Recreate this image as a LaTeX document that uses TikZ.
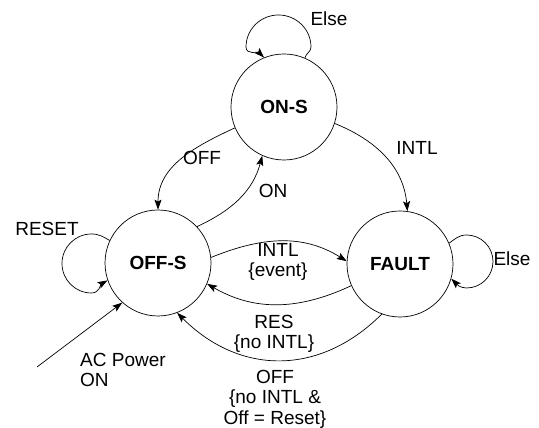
\documentclass[tikz,border=0pt]{standalone}
\usepackage{fontspec}
\setmainfont{Liberation Sans}
\usetikzlibrary{arrows.meta}

\tikzset{
  state/.style={circle, draw, line width=0.7pt, minimum size=106pt, inner sep=0pt,
                font=\fontsize{19}{20.5}\selectfont\bfseries},
  lbl/.style={inner sep=0pt, font=\fontsize{19}{20.5}\selectfont, align=center},
  trans/.style={line width=0.7pt, -{Stealth[length=10pt,width=7pt,inset=2pt]}},
}

\begin{document}
\begin{tikzpicture}[x=1pt, y=1pt]
  \useasboundingbox (0,0) rectangle (539,428);

  % states
  \node[state] (on)    at (284,321) {ON-S};
  \node[state] (off)   at (158,165) {OFF-S};
  \node[state] (fault) at (400,164) {FAULT};

  % turning points of the self loops
  \coordinate (onR)  at (311,381);
  \coordinate (onT)  at (278.5,413);
  \coordinate (onL)  at (246,381);
  \coordinate (offT) at (91.5,194);
  \coordinate (offL) at (62,164.5);
  \coordinate (offB) at (91.5,135);
  \coordinate (fT)   at (466.5,193);
  \coordinate (fR)   at (493,166.5);
  \coordinate (fB)   at (466.5,140);

  % self loops
  \draw[trans] (on.67) to[out=75, in=-90] (onR) to[out=90, in=0] (onT)
               to[out=180, in=90] (onL) to[out=-90, in=135] (on.112);
  \draw[trans] (off.155) to[out=150, in=0] (offT) to[out=180, in=90] (offL)
               to[out=-90, in=180] (offB) to[out=0, in=210] (off.199);
  \draw[trans] (fault.23) to[out=35, in=180] (fT) to[out=0, in=90] (fR)
               to[out=-90, in=0] (fB) to[out=180, in=-45] (fault.-16);

  % transitions between states
  \draw[trans] (on.203) to[out=205, in=90] (off.90);
  \draw[trans] (off.43) to[out=25, in=255] (on.246);
  \draw[trans] (on.-18) to[out=-22, in=95] (fault.82);
  \draw[trans] (off.6) to[out=22, in=148] (fault.177);
  \draw[trans] (fault.204) to[out=205, in=-30] (off.-23);
  \draw[trans] (fault.250) to[out=225, in=-45, looseness=1.1] (off.-69);

  % power-on entry
  \coordinate (pwr) at (37,61);
  \draw[trans] (pwr) -- (off.228);

  % labels
  \node[lbl] (lElseOn)  at (329,409) {Else};
  \node[lbl] (lReset)   at (47,199.5) {RESET};
  \node[lbl] (lOff)     at (202,270) {OFF};
  \node[lbl] (lOn)      at (273,237) {ON};
  \node[lbl] (lIntl)    at (417,280) {INTL};
  \node[lbl] (lElseF)   at (512,169) {Else};
  \node[lbl, anchor=north] (lEvent) at (278,185) {INTL\\\{event\}};
  \node[lbl, anchor=north] (lRes)   at (274,113) {RES\\\{no INTL\}};
  \node[lbl, anchor=north] (lOffR)  at (275,58) {OFF\\\{no INTL \&\\Off = Reset\}};
  \node[lbl, anchor=north west, align=left] (lPwr) at (80,75) {AC Power\\ON};
\end{tikzpicture}
\end{document}
